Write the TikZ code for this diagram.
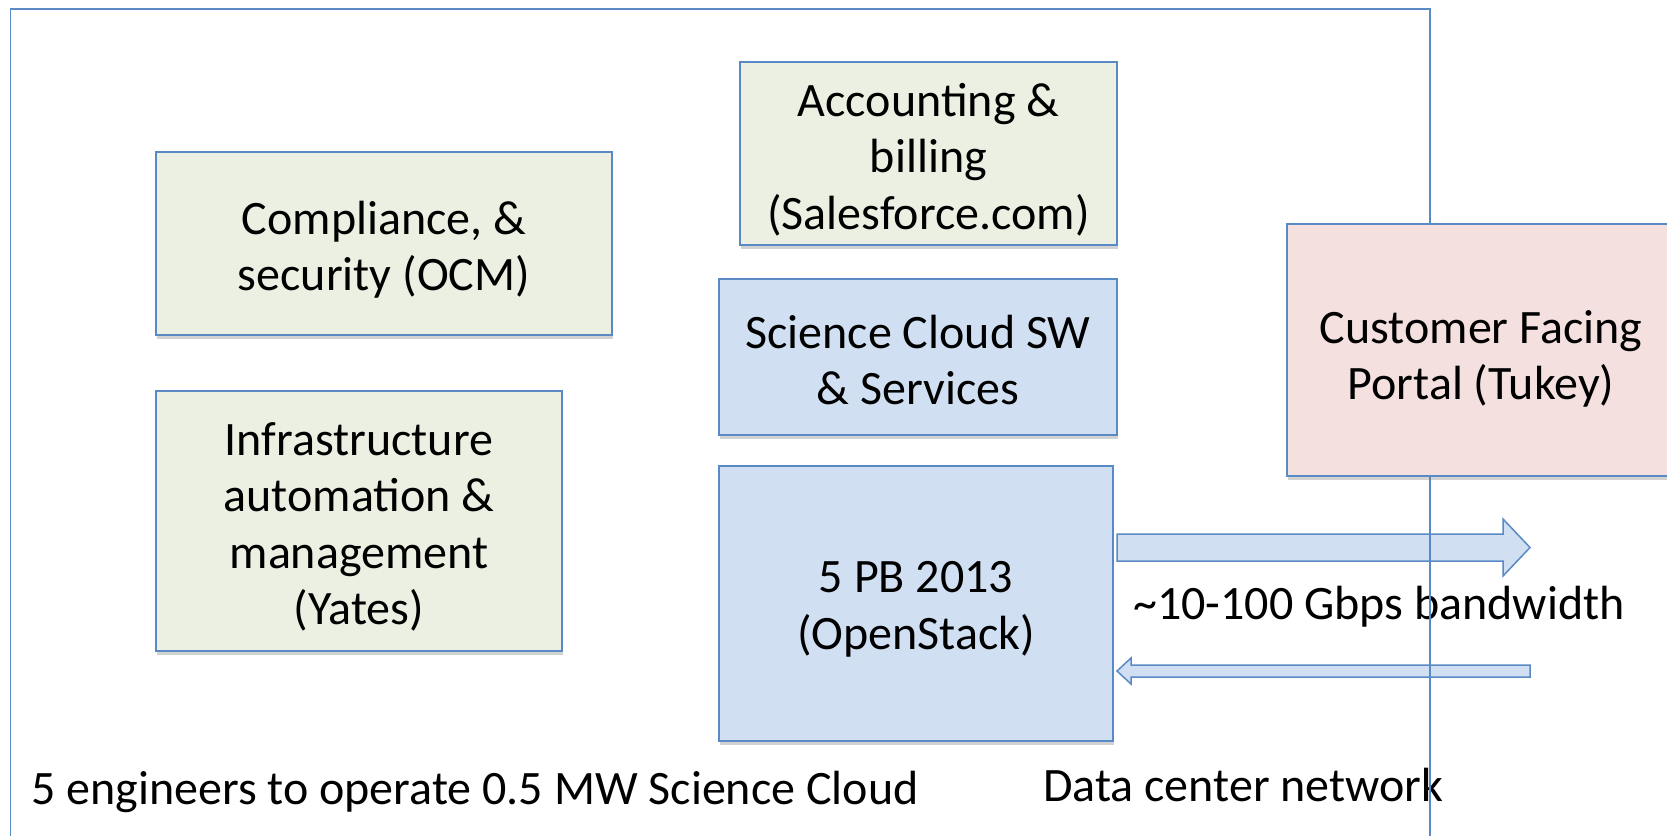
\documentclass[tikz,border=0pt]{standalone}
\usepackage{fontspec}
\setmainfont{Carlito}
\usetikzlibrary{shadows,calc}
\definecolor{edgeblue}{HTML}{5A8AC6}
\definecolor{greenfill}{HTML}{EBF0E2}
\definecolor{bluefill}{HTML}{D0E0F2}
\definecolor{pinkfill}{HTML}{F3E0DF}
\tikzset{
  box/.style={draw=edgeblue, line width=1.5pt, inner sep=0pt,
    drop shadow={opacity=0.35, shadow xshift=1pt, shadow yshift=-4pt}},
  greenbox/.style={box, fill=greenfill},
  bluebox/.style={box, fill=bluefill},
  pinkbox/.style={box, fill=pinkfill},
  boxtext/.style={align=center, inner sep=0pt, font=\fontsize{48}{56.5}\selectfont},
  label/.style={font=\fontsize{48}{56.5}\selectfont, inner sep=0pt, anchor=west},
  blockarrow/.style={draw=edgeblue, line width=1.5pt, fill=bluefill, line join=miter},
}
\begin{document}
\begin{tikzpicture}[x=1pt,y=-1pt]
\useasboundingbox (0,0) rectangle (1667,835);
\fill[white] (0,0) rectangle (1667,835);

% block arrows
\draw[blockarrow] (1117,534) -- (1503,534) -- (1503,519) -- (1530,547.5) -- (1503,576) -- (1503,561) -- (1117,561) -- cycle;
\draw[blockarrow] (1530,665) -- (1131,665) -- (1131,658) -- (1117,671) -- (1131,684) -- (1131,677) -- (1530,677) -- cycle;

\node[label] (bw) at (1133,607) {\textasciitilde10-100 Gbps bandwidth};
\node[label] (dcn) at (1043,785) {Data center network};

% outer frame
\draw[draw=edgeblue, line width=1.5pt] (10.5,860) -- (10.5,9) -- (1430,9) -- (1430,860);

\node[greenbox, minimum width=456pt, minimum height=183pt] (comp) at (384,243.5) {};
\node[boxtext] (compt) at ([yshift=-6pt]comp.center) {Compliance, \&\\security (OCM)};

\node[greenbox, minimum width=406pt, minimum height=260pt] (infra) at (359,521) {};
\node[boxtext] (infrat) at ([yshift=-6pt]infra.center) {Infrastructure\\automation \&\\management\\(Yates)};

\node[greenbox, minimum width=377pt, minimum height=183pt] (acct) at (928.5,153.5) {};
\node[boxtext] (acctt) at ([yshift=-6pt]acct.center) {Accounting \&\\billing\\(Salesforce.com)};

\node[bluebox, minimum width=398pt, minimum height=156pt] (sw) at (918,357) {};
\node[boxtext] (swt) at ([yshift=-3pt]sw.center) {Science Cloud SW\\\& Services};

\node[bluebox, minimum width=394pt, minimum height=275pt] (pb) at (916,603.5) {};
\node[boxtext] (pbt) at ([yshift=-6pt]pb.center) {5 PB 2013\\(OpenStack)};

\node[pinkbox, minimum width=388pt, minimum height=252pt] (portal) at (1481,350) {};
\node[boxtext] (portalt) at ([yshift=-9pt]portal.center) {Customer Facing\\Portal (Tukey)};

\node[label] (eng) at (31,792) {5 engineers to operate 0.5 MW Science Cloud};
\end{tikzpicture}
\end{document}
